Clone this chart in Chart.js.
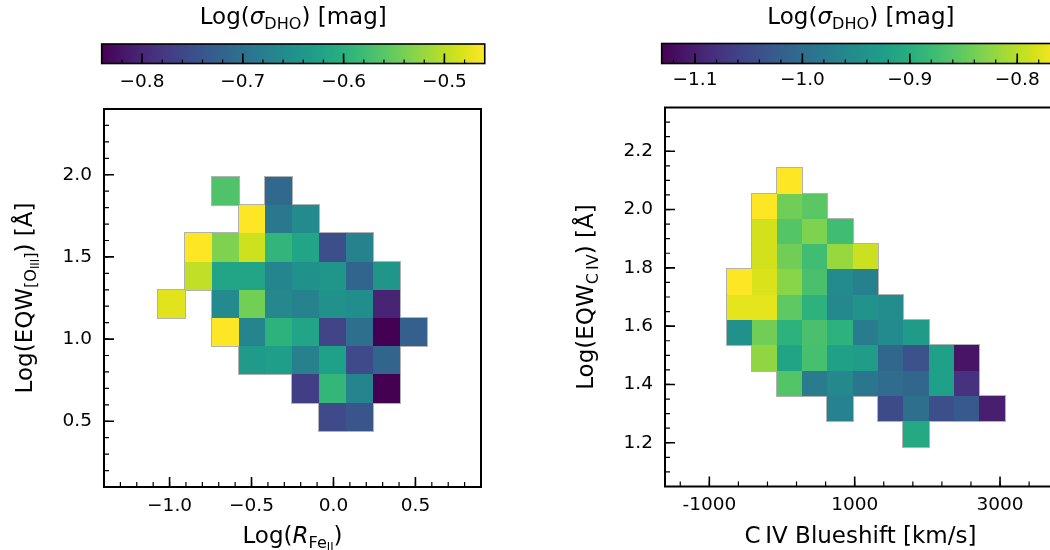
<!DOCTYPE html>
<html>
<head>
<meta charset="utf-8">
<script src="https://cdn.jsdelivr.net/npm/chart.js@4.4.0/dist/chart.umd.min.js"></script>
<style>
html, body { margin: 0; padding: 0; background: #fff; overflow: hidden; width: 1050px; height: 550px; }
#left { position: absolute; left: 0; top: 0; }
#right { position: absolute; left: 540px; top: 0; }
</style>
</head>
<body>
<canvas id="left" width="540" height="550"></canvas>
<canvas id="right" width="560" height="550"></canvas>
<script>
//Left panel: [OIII] equivalent width vs R_FeII, coloured by Log(sigma_DHO)
const oiiiXEdges = [-1.071, -0.907, -0.743, -0.579, -0.415, -0.251, -0.087, 0.077, 0.241, 0.405, 0.569];
//rows go from top to bottom
const oiiiYEdges = [1.984, 1.813, 1.643, 1.470, 1.301, 1.128, 0.957, 0.785, 0.614, 0.443];
const oiiiSigma = [
  [null, null, -0.566, null, -0.714, null, null, null, null, null],
  [null, null, null, -0.460, -0.688, -0.661, null, null, null, null],
  [null, -0.460, -0.535, -0.489, -0.592, -0.619, -0.749, -0.672, null, null],
  [null, -0.497, -0.619, -0.619, -0.669, -0.650, -0.642, -0.718, -0.642, null],
  [-0.478, null, -0.661, -0.543, -0.665, -0.672, -0.650, -0.657, -0.802, null],
  [null, null, -0.460, -0.669, -0.596, -0.619, -0.764, -0.703, -0.840, -0.726],
  [null, null, null, -0.634, -0.630, -0.676, -0.627, -0.756, -0.718, null],
  [null, null, null, null, null, -0.771, -0.589, -0.669, -0.840, null],
  [null, null, null, null, null, null, -0.756, -0.741, null, null]
];
const oiiiXTicks = [-1.0, -0.5, 0.0, 0.5];
const oiiiYTicks = [0.5, 1.0, 1.5, 2.0];
const oiiiCbTicks = [-0.8, -0.7, -0.6, -0.5];
const oiiiCbRange = [-0.840, -0.460];

//Right panel: CIV equivalent width vs CIV blueshift
const civXEdges = [-760, -416, -73, 280, 624, 973, 1325, 1669, 2023, 2367, 2715, 3065];
const civYEdges = [2.143, 2.055, 1.968, 1.881, 1.795, 1.707, 1.621, 1.534, 1.446, 1.359, 1.273, 1.185];
const civSigma = [
  [null, null, -0.760, null, null, null, null, null, null, null, null],
  [null, -0.760, -0.842, -0.856, null, null, null, null, null, null, null],
  [null, -0.786, -0.860, -0.834, -0.875, null, null, null, null, null, null],
  [null, -0.786, -0.842, -0.875, -0.819, -0.790, null, null, null, null, null],
  [-0.760, -0.782, -0.827, -0.868, -0.957, -0.972, null, null, null, null, null],
  [-0.775, -0.775, -0.853, -0.894, -0.960, -0.942, -0.953, null, null, null, null],
  [-0.946, -0.842, -0.894, -0.868, -0.894, -0.979, -0.957, -0.931, null, null, null],
  [null, -0.823, -0.916, -0.871, -0.920, -0.927, -1.009, -1.038, -0.923, -1.112, null],
  [null, null, -0.860, -0.979, -0.960, -0.986, -1.001, -1.009, -0.923, -1.079, null],
  [null, null, null, null, -0.968, null, -1.046, -0.997, -1.042, -1.027, -1.101],
  [null, null, null, null, null, null, null, -0.908, null, null, null]
];
const civXTicks = [-1000, 1000, 3000];
const civYTicks = [1.2, 1.4, 1.6, 1.8, 2.0, 2.2];
const civCbTicks = [-1.1, -1.0, -0.9, -0.8];
const civCbRange = [-1.131, -0.760];


const FONT = 'DejaVu Sans';
const TICK_SIZE = 18.5;
const LABEL_SIZE = 23;

//matplotlib viridis, sampled at 17 points
const viridisStops = ['#440154', '#48186a', '#472d7b', '#424086', '#3b528b', '#33638d', '#2c728e', '#26828e',
  '#21918c', '#1fa088', '#28ae80', '#3fbc73', '#5ec962', '#84d44b', '#addc30', '#d8e219', '#fde725'];

function hexToRgb(h) {
  return [parseInt(h.substr(1, 2), 16), parseInt(h.substr(3, 2), 16), parseInt(h.substr(5, 2), 16)];
}

function viridis(t) {
  t = Math.min(1, Math.max(0, t));
  const f = t * (viridisStops.length - 1);
  const i = Math.min(Math.floor(f), viridisStops.length - 2);
  const a = hexToRgb(viridisStops[i]);
  const b = hexToRgb(viridisStops[i + 1]);
  const u = f - i;
  return 'rgb(' + [0, 1, 2].map(k => Math.round(a[k] + (b[k] - a[k]) * u)).join(',') + ')';
}

//tick label with a real minus sign
function fmtMinus(v) {
  return (v < 0 ? '\u2212' : '') + Math.abs(v).toFixed(1);
}

//minor tick positions, stepping out from the first major tick
function minorValues(majors, step, min, max) {
  const out = [];
  for (let k = -60; k <= 200; k++) {
    const v = majors[0] + k * step;
    if (v > min + 1e-9 && v < max - 1e-9) out.push(v);
  }
  return out;
}

//draws text with subscripts. parts = [text, kind], kind: '' normal, 'i' italic, 's' subscript, 'ss' sub-subscript
function drawRich(ctx, parts, x, y, size, angle) {
  const fontFor = kind => {
    if (kind === 's') return (size * 0.7) + 'px "' + FONT + '"';
    if (kind === 'ss') return (size * 0.5) + 'px "' + FONT + '"';
    if (kind === 'i') return 'italic ' + size + 'px "' + FONT + '"';
    return size + 'px "' + FONT + '"';
  };
  const dropFor = kind => kind === 's' ? size * 0.2 : (kind === 'ss' ? size * 0.33 : 0);

  ctx.save();
  ctx.translate(x, y);
  ctx.rotate(angle || 0);
  ctx.fillStyle = '#000';
  ctx.textBaseline = 'alphabetic';
  ctx.textAlign = 'left';

  let total = 0;
  parts.forEach(p => { ctx.font = fontFor(p[1]); total += ctx.measureText(p[0]).width; });

  let cx = -total / 2;
  parts.forEach(p => {
    ctx.font = fontFor(p[1]);
    ctx.fillText(p[0], cx, dropFor(p[1]));
    cx += ctx.measureText(p[0]).width;
  });
  ctx.restore();
}

function makeHeatPlugin(p) {
  return {
    id: 'heat',

    //the cells themselves: grey outline first, then the colour on top so only the outer edges stay grey
    beforeDatasetsDraw(chart) {
      const ctx = chart.ctx;
      const xs = chart.scales.x;
      const ys = chart.scales.y;
      const cells = chart.data.datasets[0].data;

      const rects = cells.map(c => {
        const x0 = Math.round(xs.getPixelForValue(c.x0));
        const x1 = Math.round(xs.getPixelForValue(c.x1));
        const y0 = Math.round(ys.getPixelForValue(c.y1));
        const y1 = Math.round(ys.getPixelForValue(c.y0));
        return { x: x0, y: y0, w: x1 - x0, h: y1 - y0, v: c.v };
      });

      ctx.save();
      ctx.strokeStyle = 'rgba(170,170,170,0.9)';
      ctx.lineWidth = 2;
      rects.forEach(r => ctx.strokeRect(r.x, r.y, r.w, r.h));
      rects.forEach(r => {
        ctx.fillStyle = viridis((r.v - p.cbRange[0]) / (p.cbRange[1] - p.cbRange[0]));
        ctx.fillRect(r.x, r.y, r.w, r.h);
      });
      ctx.restore();
    },

    afterDraw(chart) {
      const ctx = chart.ctx;
      const ca = chart.chartArea;
      const xs = chart.scales.x;
      const ys = chart.scales.y;
      const cb = chart.scales.cb;

      ctx.save();
      ctx.strokeStyle = '#000';

      //inward ticks on bottom and left
      const xMinor = minorValues(p.xTicks, p.xMinor, p.xLim[0], p.xLim[1]);
      const yMinor = minorValues(p.yTicks, p.yMinor, p.yLim[0], p.yLim[1]);

      ctx.lineWidth = 1.2;
      ctx.beginPath();
      xMinor.forEach(v => {
        const px = xs.getPixelForValue(v);
        ctx.moveTo(px, ca.bottom); ctx.lineTo(px, ca.bottom - 5);
      });
      yMinor.forEach(v => {
        const py = ys.getPixelForValue(v);
        ctx.moveTo(ca.left, py); ctx.lineTo(ca.left + 5, py);
      });
      ctx.stroke();

      ctx.lineWidth = 1.6;
      ctx.beginPath();
      p.xTicks.forEach(v => {
        const px = xs.getPixelForValue(v);
        ctx.moveTo(px, ca.bottom); ctx.lineTo(px, ca.bottom - 10);
      });
      p.yTicks.forEach(v => {
        const py = ys.getPixelForValue(v);
        ctx.moveTo(ca.left, py); ctx.lineTo(ca.left + 10, py);
      });
      ctx.stroke();

      //frame
      ctx.lineWidth = 2;
      ctx.strokeRect(ca.left, ca.top, ca.right - ca.left, ca.bottom - ca.top);

      //colour bar, using the 'cb' scale for positions
      const bx0 = cb.getPixelForValue(p.cbRange[0]);
      const bx1 = cb.getPixelForValue(p.cbRange[1]);
      const grad = ctx.createLinearGradient(bx0, 0, bx1, 0);
      viridisStops.forEach((c, i) => grad.addColorStop(i / (viridisStops.length - 1), c));
      ctx.fillStyle = grad;
      ctx.fillRect(bx0, p.barTop, bx1 - bx0, p.barBottom - p.barTop);

      const cbMinor = minorValues(p.cbTicks, p.cbMinor, p.cbRange[0], p.cbRange[1]);
      ctx.lineWidth = 1.2;
      ctx.beginPath();
      cbMinor.forEach(v => {
        const px = cb.getPixelForValue(v);
        ctx.moveTo(px, p.barBottom); ctx.lineTo(px, p.barBottom - 4);
      });
      ctx.stroke();
      ctx.lineWidth = 1.6;
      ctx.beginPath();
      p.cbTicks.forEach(v => {
        const px = cb.getPixelForValue(v);
        ctx.moveTo(px, p.barBottom); ctx.lineTo(px, p.barBottom - 10);
      });
      ctx.stroke();
      ctx.lineWidth = 1.6;
      ctx.strokeRect(bx0, p.barTop, bx1 - bx0, p.barBottom - p.barTop);
      ctx.restore();

      //titles
      drawRich(ctx, p.cbTitle, (bx0 + bx1) / 2, p.cbTitleY, LABEL_SIZE, 0);
      drawRich(ctx, p.xTitle, (ca.left + ca.right) / 2, p.xTitleY, LABEL_SIZE, 0);
      drawRich(ctx, p.yTitle, p.yTitleX, (ca.top + ca.bottom) / 2, LABEL_SIZE, -Math.PI / 2);
    }
  };
}

function makePanel(canvasId, p) {
  //turn the grid into one cell object per filled bin
  const cells = [];
  p.grid.forEach((row, r) => row.forEach((v, c) => {
    if (v === null) return;
    cells.push({
      x: (p.xEdges[c] + p.xEdges[c + 1]) / 2,
      y: (p.yEdges[r] + p.yEdges[r + 1]) / 2,
      x0: p.xEdges[c], x1: p.xEdges[c + 1],
      y0: p.yEdges[r + 1], y1: p.yEdges[r],
      v: v
    });
  }));

  const tickFont = { family: FONT, size: TICK_SIZE };

  return new Chart(document.getElementById(canvasId), {
    type: 'scatter',
    data: {
      datasets: [{ data: cells, pointRadius: 0, pointHoverRadius: 0 }]
    },
    options: {
      responsive: false,
      animation: false,
      events: [],
      layout: { padding: p.pad },
      plugins: {
        legend: { display: false },
        tooltip: { enabled: false }
      },
      scales: {
        x: {
          type: 'linear', position: 'bottom', bounds: 'data',
          min: p.xLim[0], max: p.xLim[1],
          grid: { display: false, drawTicks: true, tickLength: 8 },
          border: { display: false },
          ticks: { font: tickFont, color: '#000', padding: 0, maxRotation: 0, callback: p.xFmt },
          afterBuildTicks: s => { s.ticks = p.xTicks.map(v => ({ value: v })); },
          afterFit: s => { s.height = p.xAxisH; }
        },
        y: {
          type: 'linear', position: 'left', bounds: 'data',
          min: p.yLim[0], max: p.yLim[1],
          grid: { display: false, drawTicks: true, tickLength: 8 },
          border: { display: false },
          ticks: { font: tickFont, color: '#000', padding: 4, callback: p.yFmt },
          afterBuildTicks: s => { s.ticks = p.yTicks.map(v => ({ value: v })); },
          afterFit: s => { s.width = p.yAxisW; }
        },
        cb: {
          type: 'linear', axis: 'x', position: 'top', bounds: 'data',
          min: p.cbAxis[0], max: p.cbAxis[1],
          grid: { display: false, drawTicks: true, tickLength: 8 },
          border: { display: false },
          ticks: { font: tickFont, color: '#000', padding: 8, maxRotation: 0, callback: fmtMinus },
          afterBuildTicks: s => { s.ticks = p.cbTicks.map(v => ({ value: v })); },
          afterFit: s => { s.height = 40; }
        }
      }
    },
    plugins: [makeHeatPlugin(p)]
  });
}

const sigmaTitle = [['Log(', ''], ['\u03c3', 'i'], ['DHO', 's'], [') [mag]', '']];

makePanel('left', {
  xEdges: oiiiXEdges, yEdges: oiiiYEdges, grid: oiiiSigma,
  xLim: [-1.4, 0.9], yLim: [0.1, 2.4],
  xTicks: oiiiXTicks, yTicks: oiiiYTicks, xMinor: 0.1, yMinor: 0.1,
  xFmt: fmtMinus, yFmt: fmtMinus,
  cbTicks: oiiiCbTicks, cbRange: oiiiCbRange, cbAxis: [-0.8377, -0.4637], cbMinor: 0.02,
  pad: { left: 0, right: 59, top: 69, bottom: 0 }, yAxisW: 104, xAxisH: 63,
  barTop: 44, barBottom: 63.5,
  cbTitle: sigmaTitle, cbTitleY: 24,
  xTitle: [['Log(', ''], ['R', 'i'], ['Fe', 's'], ['II', 'ss'], [')', '']], xTitleY: 543,
  yTitle: [['Log(EQW', ''], ['[O', 's'], ['III', 'ss'], [']', 's'], [') [\u00c5]', '']], yTitleX: 31.7
});

makePanel('right', {
  xEdges: civXEdges, yEdges: civYEdges, grid: civSigma,
  xLim: [-1610, 3770], yLim: [1.05, 2.35],
  xTicks: civXTicks, yTicks: civYTicks, xMinor: 400, yMinor: 0.05,
  xFmt: v => String(v), yFmt: fmtMinus,
  cbTicks: civCbTicks, cbRange: civCbRange, cbAxis: [-1.1279, -0.7639], cbMinor: 0.02,
  pad: { left: 0, right: 44, top: 67.5, bottom: 0 }, yAxisW: 125, xAxisH: 63.5,
  barTop: 43.5, barBottom: 63.5,
  cbTitle: sigmaTitle, cbTitleY: 24,
  xTitle: [['C\u2009IV Blueshift [km/s]', '']], xTitleY: 543,
  yTitle: [['Log(EQW', ''], ['C\u2009IV', 's'], [') [\u00c5]', '']], yTitleX: 53
});
</script>
</body>
</html>
